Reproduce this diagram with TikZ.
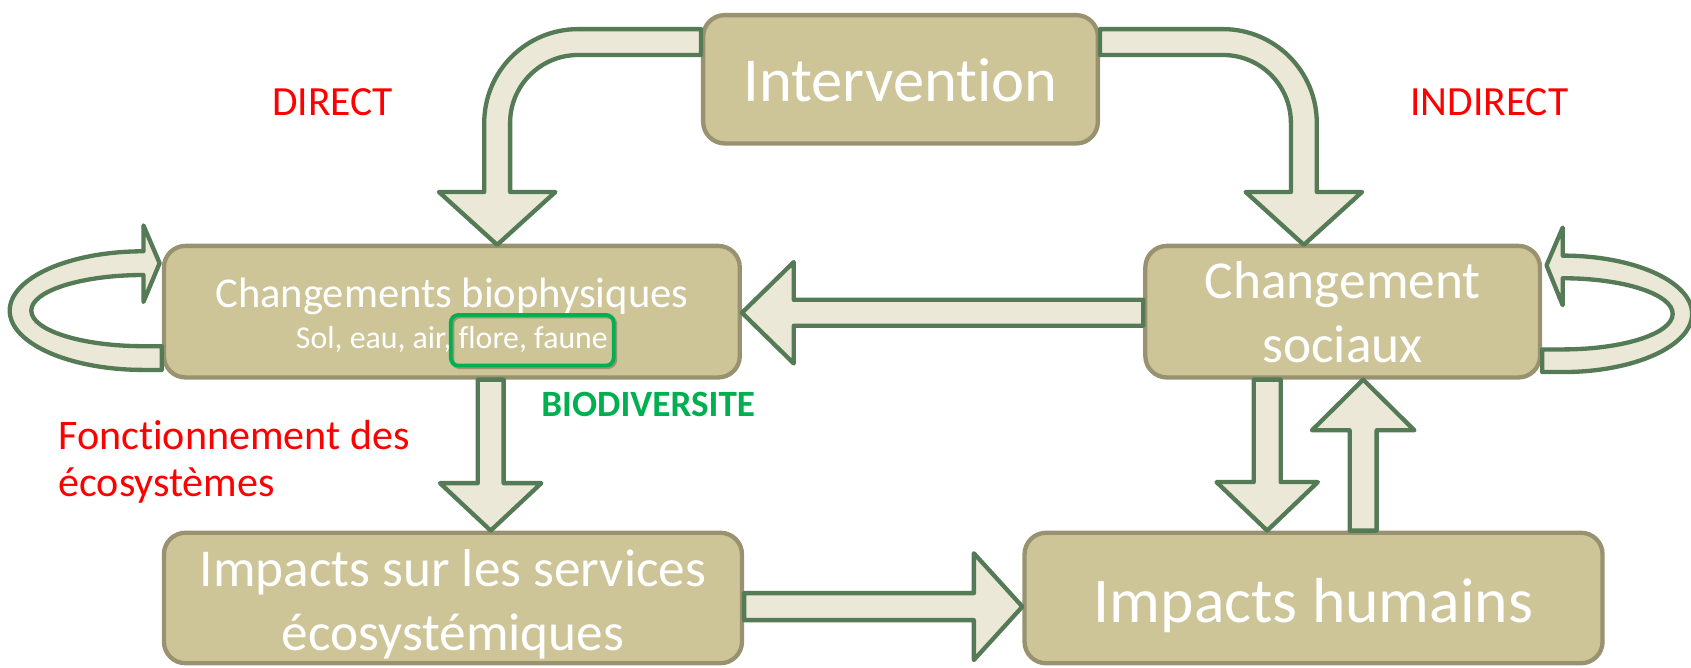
\documentclass[tikz,border=0pt]{standalone}
\usepackage{fontspec}
\setmainfont{Carlito}[Ligatures=NoCommon]
\usetikzlibrary{calc}
\definecolor{boxfill}{HTML}{CDC597}
\definecolor{boxline}{HTML}{999270}
\definecolor{arrfill}{HTML}{EBE8D7}
\definecolor{arrline}{HTML}{547A56}
\definecolor{biogreen}{HTML}{00B050}
\definecolor{labred}{HTML}{FF0000}
\newcommand\myhs[1]{\rule{0pt}{#1}}
\newcommand\myds[1]{\rule[-#1]{0pt}{#1}}
\tikzset{
  box/.style={draw=boxline, fill=boxfill, line width=4pt, rounded corners=20pt,
    inner sep=0pt, text=white, align=center},
  blockarrow/.style={draw=arrline, fill=arrfill, line width=4pt, line join=round},
  redlab/.style={text=labred, inner sep=0pt, font=\fontsize{38.5}{44}\selectfont},
  greenframe/.style={draw=biogreen, line width=3.5pt, rounded corners=7pt, inner sep=0pt},
  frameshadow/.style={draw=black, opacity=0.25, line width=3.5pt, rounded corners=7pt, inner sep=0pt},
}
% straight block arrow: start, tip, shaft half width, head half width, head length
\newcommand\barrow[5]{%
  \draw[blockarrow] (#1) coordinate (ba-s) (#2) coordinate (ba-t)
    ($(ba-t)!#5!(ba-s)$) coordinate (ba-b)
    ($(ba-s)!#3!90:(ba-t)$) -- ($(ba-b)!#3!90:(ba-t)$) -- ($(ba-b)!#4!90:(ba-t)$) -- (ba-t)
    -- ($(ba-b)!#4!-90:(ba-t)$) -- ($(ba-b)!#3!-90:(ba-t)$) -- ($(ba-s)!#3!-90:(ba-t)$) -- cycle;}
\begin{document}
\begin{tikzpicture}[x=1pt,y=-1pt]
\useasboundingbox (0,0) rectangle (1568,619);

% boxes
\node[box, minimum width=366pt, minimum height=119pt, font=\fontsize{58}{70}\selectfont]
  (interv) at (835,73.5) {\myhs{46pt}\myds{4pt}Intervention};
\node[box, minimum width=534pt, minimum height=122pt, font=\fontsize{29.5}{38.3}\selectfont]
  (bio) at (419,289) {\myhs{36pt}{\fontsize{39.5}{38.3}\selectfont Changements biophysiques}\\Sol, eau, air, flore, faune\myds{6.3pt}};
\node[box, minimum width=366pt, minimum height=122pt, font=\fontsize{49.5}{59}\selectfont]
  (soc) at (1245,289) {\myhs{40pt}Changement\\sociaux\myds{5pt}};
\node[box, minimum width=536pt, minimum height=121pt, font=\fontsize{49.4}{59}\selectfont]
  (serv) at (420,554.5) {\myhs{50pt}Impacts sur les services\\écosystémiques\myds{12pt}};
\node[box, minimum width=536pt, minimum height=121pt, font=\fontsize{59}{68}\selectfont]
  (hum) at (1218,554.5) {\myhs{58pt}\myds{13pt}Impacts humains};

% curved arrows from Intervention
\draw[blockarrow] ($(interv.west)+(0,-46.5)$) -- ++(-114,0)
  arc[start angle=270,end angle=180,radius=87] -- ++(0,64) -- ++(-42,0) -- ++(54,49)
  -- ++(54,-49) -- ++(-42,0) -- ++(0,-64) arc[start angle=180,end angle=270,radius=63]
  -- ++(114,0) -- cycle;
\draw[blockarrow] ($(interv.east)+(0,-46.5)$) -- ++(114,0)
  arc[start angle=270,end angle=360,radius=87] -- ++(0,64) -- ++(42,0) -- ++(-54,49)
  -- ++(-54,-49) -- ++(42,0) -- ++(0,-64) arc[start angle=360,end angle=270,radius=63]
  -- ++(-114,0) -- cycle;

% self loops
\draw[blockarrow] ($(bio.west)+(0,54)$) -- ++(-17,0)
  arc[start angle=90,end angle=270,x radius=124,y radius=55] -- ++(0,-24) -- ++(15,35)
  -- ++(-15,36) -- ++(0,-25) arc[start angle=270,end angle=90,x radius=104,y radius=33]
  -- ++(17,0) -- cycle;
\draw[blockarrow] ($(soc.east)+(0,56)$) -- ++(19,0)
  arc[start angle=90,end angle=-90,x radius=120,y radius=54] -- ++(0,-26) -- ++(-15,35)
  -- ++(15,37) -- ++(0,-25) arc[start angle=-90,end angle=90,x radius=102,y radius=33]
  -- ++(-19,0) -- cycle;

% straight arrows
\barrow{$(soc.west)+(0,1)$}{$(bio.east)+(0,1)$}{12pt}{47pt}{48pt}
\barrow{$(bio.south)+(36,0)$}{$(serv.north)+(35,0)$}{12pt}{47pt}{44pt}
\barrow{$(soc.south)+(-70,0)$}{$(hum.north)+(-43,0)$}{12.5pt}{47pt}{45pt}
\barrow{$(hum.north)+(46,0)$}{$(soc.south)+(19,0)$}{12.5pt}{47.5pt}{47pt}
\barrow{$(serv.east)+(0,8)$}{$(hum.west)+(0,8)$}{12.5pt}{49.5pt}{45pt}

% biodiversity frame
\node[frameshadow, minimum width=151pt, minimum height=47pt] (biodivsh) at (495,317) {};
\node[greenframe, minimum width=151pt, minimum height=47pt] (biodiv) at (493.5,315.5) {};

% labels
\node[redlab, anchor=base] (direct) at (308.5,107.3) {DIRECT};
\node[redlab, anchor=base] (indirect) at (1381,107) {INDIRECT};
\node[redlab, anchor=north west, align=left, font=\fontsize{39}{44}\selectfont]
  (fonct) at (54,381.5) {\myhs{35pt}Fonctionnement des\\écosystèmes};
\node[inner sep=0pt, anchor=base, text=biogreen, font=\fontsize{34.4}{40}\selectfont\bfseries]
  (biodivlab) at (601,386.4) {BIODIVERSITE};
\end{tikzpicture}
\end{document}
